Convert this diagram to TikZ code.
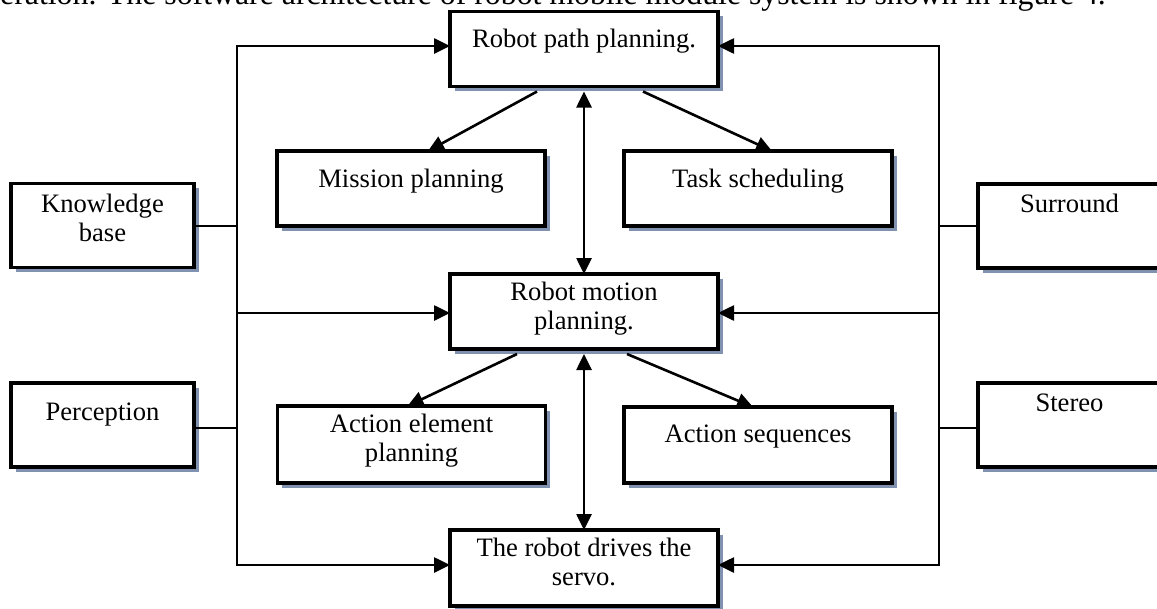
\documentclass[tikz,border=0pt]{standalone}
\usepackage{fontspec}
\setmainfont{Liberation Serif}
\usetikzlibrary{arrows.meta,calc,shadows}
\definecolor{shadowcol}{RGB}{128,146,176}
\newcommand\bxfont{\fontsize{26.6pt}{29pt}\selectfont}
\newcommand\capfont{\fontsize{31.8pt}{36pt}\selectfont}
\begin{document}
\begin{tikzpicture}[x=1pt,y=-1pt,
  box/.style={draw, line width=3.6pt, fill=white, inner sep=0pt, outer sep=0pt,
    minimum width=268pt, minimum height=75pt,
    general shadow={fill=shadowcol, shadow xshift=4.5pt, shadow yshift=-4.5pt}},
  sbox/.style={box, minimum width=183pt, minimum height=84pt},
  lbl/.style={font=\bxfont, inner sep=0pt, anchor=base},
  lbltwo/.style={font=\bxfont, inner sep=0pt, anchor=north, align=center},
  conn/.style={line width=2.6pt, line join=miter},
  arr/.style={conn, -{Triangle[length=16pt,width=15pt]}},
  darr/.style={conn, {Triangle[length=16pt,width=15pt]}-{Triangle[length=16pt,width=15pt]}}]
\useasboundingbox (0,0) rectangle (1157,608);
\clip (0,0) rectangle (1157,608);

% caption line (cut at top)
\node[font=\capfont, anchor=base west, inner sep=0pt] (cap) at (0,4)
  {eration. The software architecture of robot mobile module system is shown in figure 4.};

% boxes
\node[box] (path) at (584,49) {};
\node[box] (mis) at (411,188.5) {};
\node[box] (task) at (758,188.5) {};
\node[sbox] (kb) at (102.5,225.5) {};
\node[sbox] (sur) at (1069.5,226) {};
\node[box] (mot) at (584,311.5) {};
\node[sbox] (per) at (102.5,425) {};
\node[sbox] (ste) at (1069.5,425) {};
\node[box, minimum height=77pt] (ael) at (411.5,444.5) {};
\node[box, minimum height=76pt] (aseq) at (758,445) {};
\node[box, minimum height=76pt] (drv) at (584,568) {};

% texts
\node[lbl] (path-t) at (584,47) {Robot path planning.};
\node[lbl] (mis-t) at (411,187) {Mission planning};
\node[lbl] (task-t) at (758,187) {Task scheduling};
\node[lbltwo] (kb-t) at (102.5,194) {Knowledge\\base};
\node[lbl] (sur-t) at (1069.5,212) {Surround};
\node[lbltwo] (mot-t) at (584,282) {Robot motion\\planning.};
\node[lbl] (per-t) at (102.5,420) {Perception};
\node[lbl] (ste-t) at (1069.5,411) {Stereo};
\node[lbltwo] (ael-t) at (411.5,414) {Action element\\planning};
\node[lbl] (aseq-t) at (758,442) {Action sequences};
\node[lbltwo] (drv-t) at (584,538) {The robot drives the\\servo.};

% trunk coordinates
\coordinate (LT) at (237,46);
\coordinate (LK) at (237,226);
\coordinate (LM) at (237,313);
\coordinate (LP) at (237,428);
\coordinate (LB) at (237,565);
\coordinate (RT) at (939,46);
\coordinate (RK) at (939,226);
\coordinate (RM) at (939,313);
\coordinate (RP) at (939,428);
\coordinate (RB) at (939,565);

% left trunk
\draw[arr] (LB) -- (LT) -- (LT -| path.west);
\draw[arr] (LT) -- (LB) -- (LB -| drv.west);
\draw[arr] (LM) -- (LM -| mot.west);
\draw[conn] (LK -| kb.east) -- (LK);
\draw[conn] (LP -| per.east) -- (LP);

% right trunk
\draw[arr] (RB) -- (RT) -- (RT -| path.east);
\draw[arr] (RT) -- (RB) -- (RB -| drv.east);
\draw[arr] (RM) -- (RM -| mot.east);
\draw[conn] (RK -| sur.west) -- (RK);
\draw[conn] (RP -| ste.west) -- (RP);

% vertical double arrows
\draw[darr] ($(path.south)+(0,5)$) -- (mot.north);
\draw[darr] ($(mot.south)+(0,5)$) -- (drv.north);

% diagonal arrows
\draw[arr] ($(path.south)+(-47,5)$) -- ($(mis.north)+(17,0)$);
\draw[arr] ($(path.south)+(59,5)$) -- ($(task.north)+(14,0)$);
\draw[arr] ($(mot.south)+(-67,5)$) -- ($(ael.north)+(-4,0)$);
\draw[arr] ($(mot.south)+(43,5)$) -- ($(aseq.north)+(-5,0)$);
\end{tikzpicture}
\end{document}
